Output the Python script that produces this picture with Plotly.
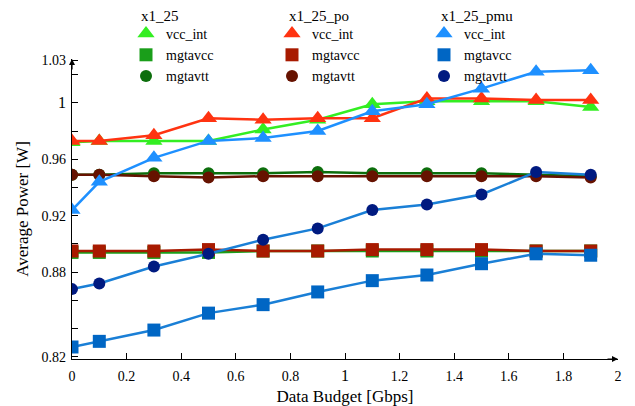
import plotly.graph_objects as go

x = [0, 0.1, 0.3, 0.5, 0.7, 0.9, 1.1, 1.3, 1.5, 1.7, 1.9]

# x1_25
g_vcc_int = [0.972, 0.973, 0.973, 0.973, 0.981, 0.988, 0.999, 1.001, 1.001, 1.001, 0.997]
g_mgtavcc = [0.894, 0.894, 0.894, 0.894, 0.895, 0.895, 0.895, 0.895, 0.895, 0.895, 0.895]
g_mgtavtt = [0.949, 0.949, 0.950, 0.950, 0.950, 0.951, 0.950, 0.950, 0.950, 0.949, 0.948]
# x1_25_po
r_vcc_int = [0.973, 0.973, 0.977, 0.989, 0.988, 0.989, 0.989, 1.003, 1.003, 1.002, 1.002]
r_mgtavcc = [0.895, 0.895, 0.895, 0.896, 0.895, 0.895, 0.896, 0.896, 0.896, 0.895, 0.895]
r_mgtavtt = [0.949, 0.949, 0.948, 0.947, 0.948, 0.948, 0.948, 0.948, 0.948, 0.948, 0.947]
# x1_25_pmu
b_vcc_int = [0.924, 0.944, 0.961, 0.973, 0.975, 0.980, 0.994, 0.999, 1.010, 1.022, 1.023]
b_mgtavcc = [0.827, 0.831, 0.839, 0.851, 0.857, 0.866, 0.874, 0.878, 0.886, 0.893, 0.892]
b_mgtavtt = [0.868, 0.872, 0.884, 0.893, 0.903, 0.911, 0.924, 0.928, 0.935, 0.951, 0.949]

group_titles = ["x1_25", "x1_25_po", "x1_25_pmu"]
groups = [
    ("legend", [
        ("vcc_int", g_vcc_int, "triangle-up", "#33ee22", "#33ee22"),
        ("mgtavcc", g_mgtavcc, "square", "#1a9e1a", "#1a9e1a"),
        ("mgtavtt", g_mgtavtt, "circle", "#0c6e0c", "#0c6e0c"),
    ]),
    ("legend2", [
        ("vcc_int", r_vcc_int, "triangle-up", "#ff3311", "#ff3311"),
        ("mgtavcc", r_mgtavcc, "square", "#a81a00", "#a81a00"),
        ("mgtavtt", r_mgtavtt, "circle", "#661200", "#661200"),
    ]),
    ("legend3", [
        ("vcc_int", b_vcc_int, "triangle-up", "#1e90ff", "#1e90ff"),
        ("mgtavcc", b_mgtavcc, "square", "#0066c4", "#1a7fd6"),
        ("mgtavtt", b_mgtavtt, "circle", "#001a80", "#1a7fd6"),
    ]),
]

sizes = {"triangle-up": 15, "square": 13, "circle": 12}

fig = go.Figure()
for leg, series in groups:
    for name, vals, sym, mcol, lcol in series:
        fig.add_trace(go.Scatter(
            x=x, y=vals, name=name, mode="lines+markers", showlegend=False,
            line=dict(color=lcol, width=2.5),
            marker=dict(symbol=sym, size=sizes[sym], color=mcol),
        ))
# marker-only legend entries (no data of their own)
for leg, series in groups:
    for name, vals, sym, mcol, lcol in series:
        fig.add_trace(go.Scatter(
            x=[None], y=[None], name=name, mode="markers", legend=leg,
            marker=dict(symbol=sym, size=sizes[sym], color=mcol),
        ))

font = "Liberation Serif"
leg_top = 1 + (59 - 18) / 300
leg_common = dict(
    font=dict(family=font, size=14, color="black"),
    bgcolor="rgba(0,0,0,0)", xref="paper", yref="paper",
    xanchor="left", yanchor="top", y=leg_top, tracegroupgap=0,
)
leg_lefts = [126, 272, 424]
title_lefts = [139, 287, 439]

ytv = [0.82, 0.84, 0.86, 0.88, 0.90, 0.92, 0.94, 0.96, 0.98, 1.0, 1.02, 1.03]
ytt = ["0.82", "", "", "0.88", "", "0.92", "", "0.96", "", "<span style='font-size:16px'>1</span>", "", "1.03"]
xtv = [0, 0.2, 0.4, 0.6, 0.8, 1.0, 1.2, 1.4, 1.6, 1.8, 2.0]
xtt = ["0", "0.2", "0.4", "0.6", "0.8", "<span style='font-size:16px'>1</span>", "1.2", "1.4", "1.6", "1.8", "2"]

annotations = [
    dict(xref="paper", yref="paper", x=1.0, y=0, ax=-12, ay=0, text="", showarrow=True,
         arrowhead=2, arrowsize=1, arrowwidth=1.2, arrowcolor="black"),
    dict(xref="paper", yref="paper", x=0, y=1.0, ax=0, ay=12, text="", showarrow=True,
         arrowhead=2, arrowsize=1, arrowwidth=1.2, arrowcolor="black"),
]
for t, xl in zip(group_titles, title_lefts):
    annotations.append(dict(xref="paper", yref="paper", x=(xl - 72) / 546, y=1 + (59 - 16) / 300,
                            xanchor="left", yanchor="middle", text=t, showarrow=False,
                            font=dict(family=font, size=15, color="black")))

layout_legends = {}
for i, (leg, _) in enumerate(groups):
    layout_legends[leg] = dict(**leg_common, x=(leg_lefts[i] - 72) / 546)

fig.update_layout(
    width=635, height=406,
    margin=dict(l=72, r=17, t=59, b=47, autoexpand=False),
    paper_bgcolor="white", plot_bgcolor="white",
    font=dict(family=font, size=14, color="black"),
    **layout_legends,
    xaxis=dict(range=[0, 2], tickvals=xtv, ticktext=xtt, ticks="inside", ticklen=6,
               tickcolor="black", showline=True, linecolor="black", linewidth=1.2,
               showgrid=False, zeroline=False, tickfont=dict(family=font, size=14),
               ticklabelstandoff=4,
               title=dict(text="Data Budget [Gbps]", font=dict(family=font, size=17), standoff=16)),
    yaxis=dict(range=[0.8185, 1.031], tickvals=ytv, ticktext=ytt, ticks="inside", ticklen=6,
               tickcolor="black", showline=True, linecolor="black", linewidth=1.2,
               showgrid=False, zeroline=False, tickfont=dict(family=font, size=14),
               ticklabelstandoff=2,
               title=dict(text="Average Power [W]", font=dict(family=font, size=17), standoff=8)),
    annotations=annotations,
)

fig.write_html("out.html")
